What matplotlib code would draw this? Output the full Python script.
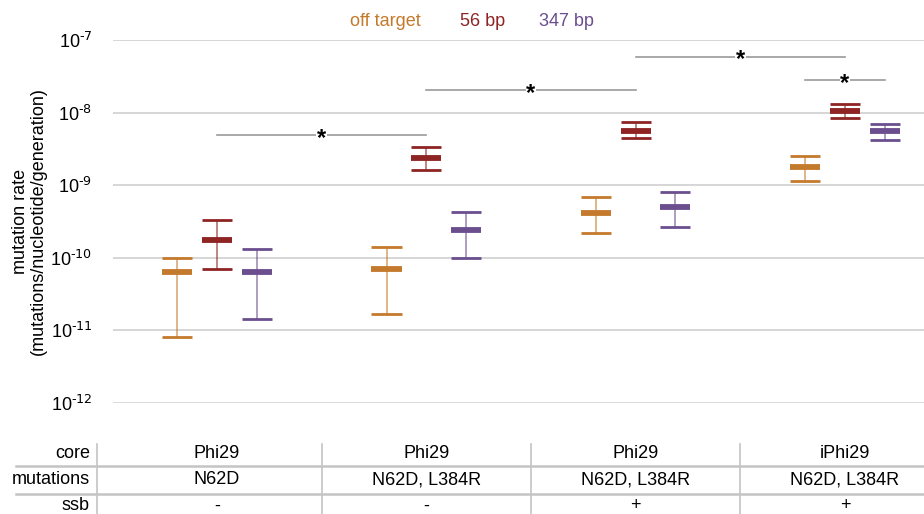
import matplotlib
matplotlib.use("Agg")
import matplotlib.pyplot as plt
import numpy as np
from matplotlib.transforms import blended_transform_factory, offset_copy
from matplotlib.lines import Line2D

plt.rcParams['font.family'] = ['Liberation Sans', 'DejaVu Sans']
plt.rcParams['mathtext.default'] = 'regular'

# ---------------- data ----------------
groups = [0, 1, 2, 3]
series = ["off target", "56 bp", "347 bp"]
series_colors = ["#C47A2C", "#8E2424", "#6B4E8E"]
series_offsets = [-0.19, 0.0, 0.19]

off_mid = [6.4e-11, 6.9e-11, 4.2e-10, 1.76e-9]
off_low = [8.0e-12, 1.66e-11, 2.17e-10, 1.13e-9]
off_high = [1.0e-10, 1.41e-10, 6.95e-10, 2.55e-9]

bp56_mid = [1.76e-10, 2.34e-9, 5.58e-9, 1.06e-8]
bp56_low = [6.9e-11, 1.62e-9, 4.43e-9, 8.5e-9]
bp56_high = [3.35e-10, 3.38e-9, 7.5e-9, 1.33e-8]

bp347_mid = [6.4e-11, 2.4e-10, 4.95e-10, 5.58e-9]
bp347_low = [1.44e-11, 1.0e-10, 2.69e-10, 4.17e-9]
bp347_high = [1.33e-10, 4.24e-10, 7.98e-10, 6.97e-9]

# significance brackets: (group_a, series_a, group_b, series_b, level)
sig_from = [(0, 1), (1, 1), (2, 1), (3, 0)]
sig_to = [(1, 1), (2, 1), (3, 1), (3, 2)]
sig_level = [4.9e-9, 2.03e-8, 5.9e-8, 2.81e-8]

ytick_vals = [1e-12, 1e-11, 1e-10, 1e-9, 1e-8, 1e-7]
ytick_labels = [r"10$^{\text{-12}}$", r"10$^{\text{-11}}$", r"10$^{\text{-10}}$",
                r"10$^{\text{-9}}$", r"10$^{\text{-8}}$", r"10$^{\text{-7}}$"]

row_names = ["core", "mutations", "ssb"]
core_vals = ["Phi29", "Phi29", "Phi29", "iPhi29"]
mut_vals = ["N62D", "N62D, L384R", "N62D, L384R", "N62D, L384R"]
ssb_vals = ["-", "-", "+", "+"]

# ---------------- figure ----------------
W, H = 924, 514
fig = plt.figure(figsize=(W / 100, H / 100), dpi=100)
ax = fig.add_axes([113 / W, (H - 403) / H, (924 - 113) / W, (403 - 40) / H])
ax.set_yscale('log')
ax.set_ylim(1e-12, 1e-7)
ax.set_xlim(-0.497, 3.378)

for s in ax.spines.values():
    s.set_visible(False)
ax.set_xticks([])
ax.set_yticks(ytick_vals)
ax.set_yticklabels(ytick_labels, fontsize=13)
ax.yaxis.set_minor_locator(matplotlib.ticker.NullLocator())
ax.tick_params(axis='y', length=0, pad=15)
for v in ytick_vals:
    ax.axhline(v, color="#d6d6d6", lw=1.4 if v != 1e-12 else 2.0, zorder=0)

mids = [off_mid, bp56_mid, bp347_mid]
lows = [off_low, bp56_low, bp347_low]
highs = [off_high, bp56_high, bp347_high]
hw = 0.072
g = np.array(groups, dtype=float)
for i in range(3):
    x = g + series_offsets[i]
    c = series_colors[i]
    ax.vlines(x, lows[i], highs[i], color=c, lw=1.1, alpha=0.7, zorder=2)
    ax.hlines(lows[i], x - hw, x + hw, color=c, lw=2.0, zorder=3)
    ax.hlines(highs[i], x - hw, x + hw, color=c, lw=2.0, zorder=3)
    ax.hlines(mids[i], x - hw, x + hw, color=c, lw=4.2, zorder=3)

for (ga, sa), (gb, sb), lvl in zip(sig_from, sig_to, sig_level):
    xa = ga + series_offsets[sa]
    xb = gb + series_offsets[sb]
    ax.plot([xa, xb], [lvl, lvl], color="#9a9a9a", lw=1.2, zorder=1, clip_on=False)
    xm = (xa + xb) / 2
    tr = offset_copy(ax.transData, fig=fig, x=0, y=-7.0, units='points')
    ax.text(xm, lvl, "*", transform=tr, ha='center', va='baseline', fontsize=17,
            fontweight='bold', color='black', zorder=4,
            bbox=dict(facecolor='white', edgecolor='none', pad=0.5))

ax.set_ylabel("mutation rate\n(mutations/nucleotide/generation)", fontsize=13,
              linespacing=1.0, labelpad=6)
ax.yaxis.set_label_coords(-0.082, 0.5)

# legend text
leg_x = [385, 483, 566]
for name, c, xp in zip(series, series_colors, leg_x):
    fig.text(xp / W, 1 - 22 / H, name, color=c, fontsize=13, ha='center', va='center')

# ---------------- table ----------------
bt = blended_transform_factory(ax.transData, fig.transFigure)
row_y = [453, 480, 506]
for name, yp in zip(row_names, row_y):
    fig.text(90 / W, 1 - yp / H, name, fontsize=13, ha='right', va='center')
for vals, yp in zip([core_vals, mut_vals, ssb_vals], row_y):
    for gi, v in zip(groups, vals):
        ax.text(gi, 1 - yp / H, v, transform=bt, fontsize=13, ha='center', va='center')

for yp in [466, 494]:
    fig.add_artist(Line2D([16 / W, 1], [1 - yp / H, 1 - yp / H], color="#c4c4c4", lw=1.8,
                          transform=fig.transFigure))
fig.add_artist(Line2D([97 / W, 97 / W], [1 - 444 / H, 0], color="#c4c4c4", lw=1.2,
                      transform=fig.transFigure))
for gi in groups[:-1]:
    xm = gi + 0.5
    line = Line2D([xm, xm], [1 - 444 / H, 0], color="#c4c4c4", lw=1.2, transform=bt)
    fig.add_artist(line)

fig.savefig("out.png", dpi=100)
